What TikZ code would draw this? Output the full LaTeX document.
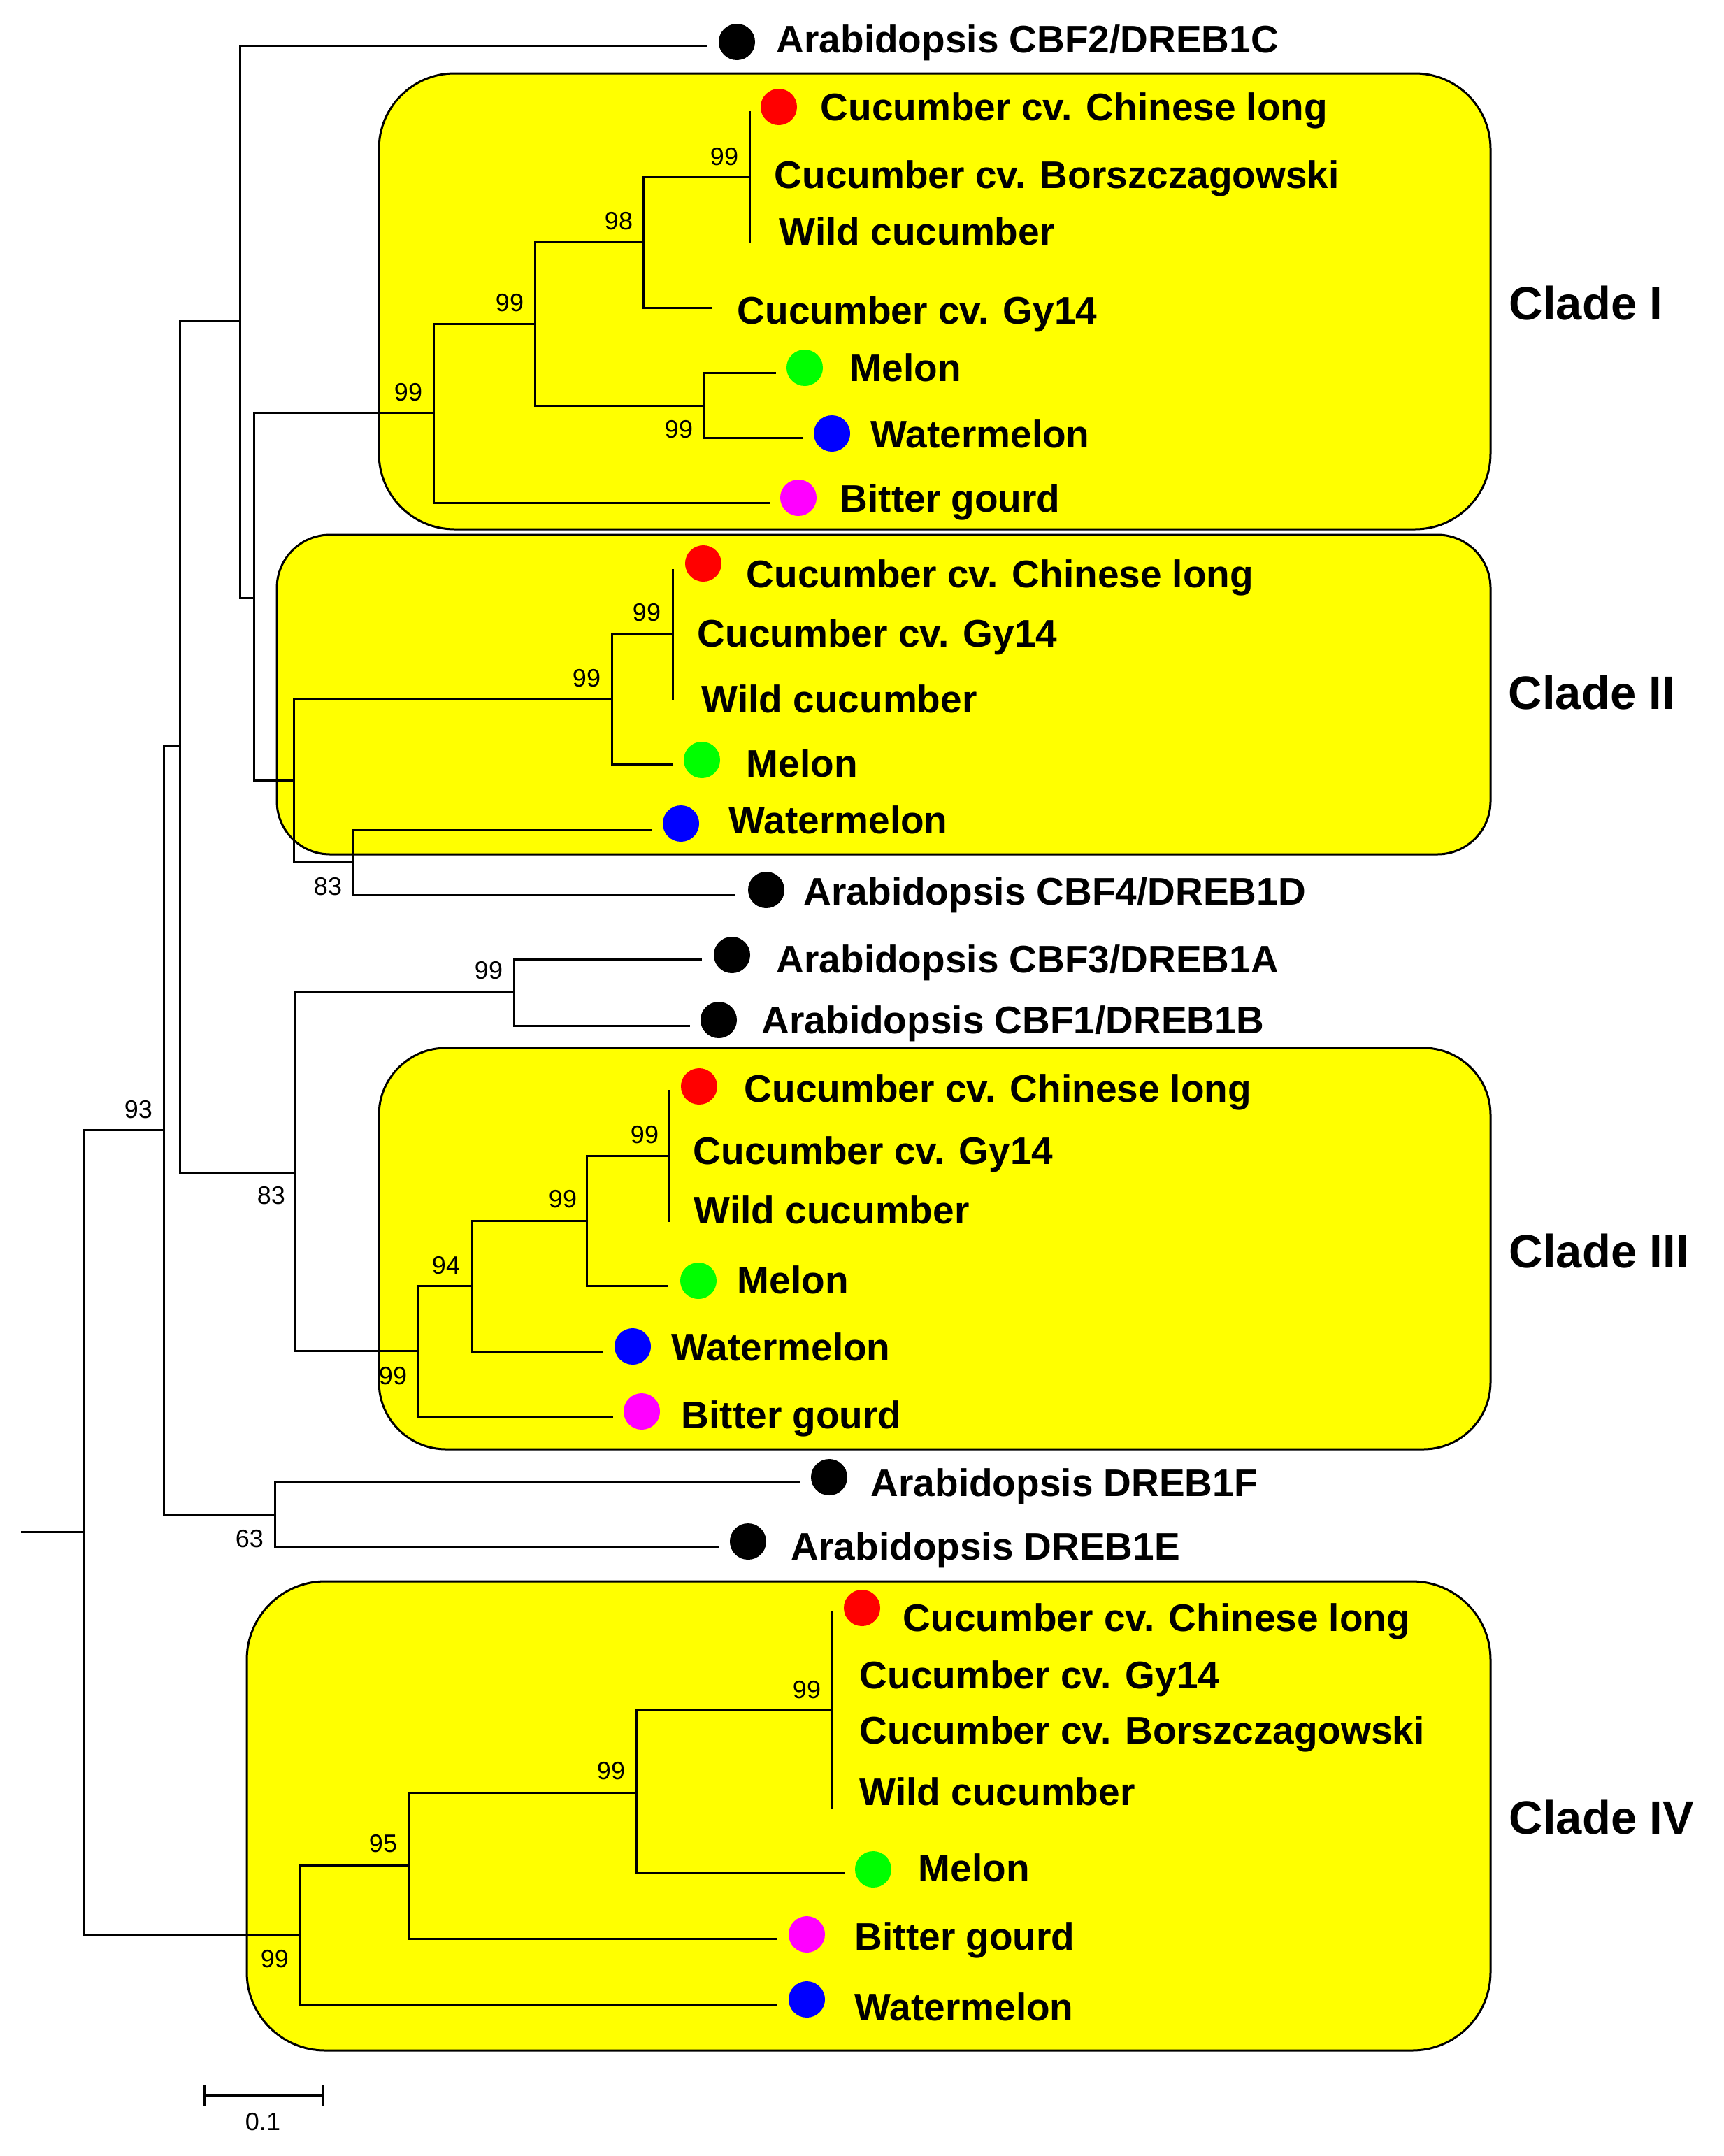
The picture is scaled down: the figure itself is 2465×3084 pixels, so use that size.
\documentclass[tikz,border=0pt]{standalone}
\usepackage{fontspec}
\setmainfont{Liberation Sans}
\definecolor{cyel}{RGB}{255,255,0}
\definecolor{cred}{RGB}{255,0,0}
\definecolor{cgreen}{RGB}{0,255,0}
\definecolor{cblue}{RGB}{0,0,255}
\definecolor{cmag}{RGB}{255,0,255}
\begin{document}
\begin{tikzpicture}[x=0.25pt,y=-0.25pt,
  branch/.style={draw=black, line width=0.75pt},
  cladebox/.style={draw=black, fill=cyel, line width=0.75pt, inner sep=0pt},
  dot/.style={circle, inner sep=0pt, minimum size=13pt, draw=none},
  lab/.style={anchor=west, inner sep=0pt, font=\fontsize{13.75}{16}\selectfont\bfseries, text height=9.85pt, text depth=0pt},
  boot/.style={inner sep=0pt, font=\fontsize{9}{10}\selectfont, text height=6.45pt, text depth=0pt},
  cladelab/.style={anchor=west, inner sep=0pt, font=\fontsize{16.75}{19}\selectfont\bfseries, text height=12pt, text depth=0pt}]
\useasboundingbox (0,0) rectangle (2465,3084);
% clade boxes
\node[cladebox, rounded corners=27pt, minimum width=397.5pt, minimum height=163pt] (box1) at (1337,431) {};
\node[cladebox, rounded corners=19pt, minimum width=434pt, minimum height=114.25pt] (box2) at (1264,993.5) {};
\node[cladebox, rounded corners=24pt, minimum width=397.5pt, minimum height=143.5pt] (box3) at (1337,1786) {};
\node[cladebox, rounded corners=28pt, minimum width=444.75pt, minimum height=167.75pt] (box4) at (1242.5,2597.5) {};
% tree coordinates
\coordinate (rs) at (30,2191);
\coordinate (r) at (120,2191);
\coordinate (n93) at (234,1616);
\coordinate (nA) at (257,1067);
\coordinate (nB) at (343,459);
\coordinate (nC) at (363,855);
\coordinate (nD) at (420,1116);
\coordinate (n83a) at (505,1232);
\coordinate (n83b) at (422,1677);
\coordinate (n99ab) at (735,1419);
\coordinate (nDE) at (393,2167);
\coordinate (c1r) at (620,590);
\coordinate (c1a) at (765,463);
\coordinate (c1b) at (920,346);
\coordinate (c1c) at (1072,253);
\coordinate (c1top) at (1072,159);
\coordinate (c1bot) at (1072,348);
\coordinate (c1mw) at (1007,580);
\coordinate (eCBF2) at (1011,65);
\coordinate (e1gy) at (1019,440);
\coordinate (e1mel) at (1110,533);
\coordinate (e1wm) at (1148,626);
\coordinate (e1bg) at (1102,719);
\coordinate (c2a) at (875,1000);
\coordinate (c2b) at (962,907);
\coordinate (c2top) at (962,814);
\coordinate (c2bot) at (962,1001);
\coordinate (e2mel) at (962,1093);
\coordinate (e2wm) at (932,1187);
\coordinate (eCBF4) at (1052,1280);
\coordinate (eCBF3) at (1004,1372);
\coordinate (eCBF1) at (987,1467);
\coordinate (c3r) at (598,1932);
\coordinate (c3a) at (675,1839);
\coordinate (c3b) at (839,1746);
\coordinate (c3c) at (956,1653);
\coordinate (c3top) at (956,1559);
\coordinate (c3bot) at (956,1748);
\coordinate (e3mel) at (956,1839);
\coordinate (e3wm) at (863,1933);
\coordinate (e3bg) at (877,2026);
\coordinate (eF) at (1144,2119);
\coordinate (eE) at (1028,2212);
\coordinate (c4r) at (429,2767);
\coordinate (c4a) at (584,2668);
\coordinate (c4b) at (910,2564);
\coordinate (c4c) at (1190,2446);
\coordinate (c4top) at (1190,2304);
\coordinate (c4bot) at (1190,2588);
\coordinate (e4mel) at (1208,2679);
\coordinate (e4bg) at (1112,2773);
\coordinate (e4wm) at (1112,2867);
% branches
\draw[branch] (rs) -- (r);
\draw[branch] (r) |- (n93);
\draw[branch] (r) |- (c4r);
\draw[branch] (n93) |- (nA);
\draw[branch] (n93) |- (nDE);
\draw[branch] (nA) |- (nB);
\draw[branch] (nA) |- (n83b);
\draw[branch] (nB) |- (eCBF2);
\draw[branch] (nB) |- (nC);
\draw[branch] (nC) |- (c1r);
\draw[branch] (nC) |- (nD);
\draw[branch] (nD) |- (c2a);
\draw[branch] (nD) |- (n83a);
\draw[branch] (n83a) |- (e2wm);
\draw[branch] (n83a) |- (eCBF4);
\draw[branch] (c2a) |- (c2b);
\draw[branch] (c2a) |- (e2mel);
\draw[branch] (c2top) -- (c2bot);
\draw[branch] (n83b) |- (n99ab);
\draw[branch] (n83b) |- (c3r);
\draw[branch] (n99ab) |- (eCBF3);
\draw[branch] (n99ab) |- (eCBF1);
\draw[branch] (c3r) |- (c3a);
\draw[branch] (c3r) |- (e3bg);
\draw[branch] (c3a) |- (c3b);
\draw[branch] (c3a) |- (e3wm);
\draw[branch] (c3b) |- (c3c);
\draw[branch] (c3b) |- (e3mel);
\draw[branch] (c3top) -- (c3bot);
\draw[branch] (nDE) |- (eF);
\draw[branch] (nDE) |- (eE);
\draw[branch] (c1r) |- (c1a);
\draw[branch] (c1r) |- (e1bg);
\draw[branch] (c1a) |- (c1b);
\draw[branch] (c1a) |- (c1mw);
\draw[branch] (c1b) |- (c1c);
\draw[branch] (c1b) |- (e1gy);
\draw[branch] (c1top) -- (c1bot);
\draw[branch] (c1mw) |- (e1mel);
\draw[branch] (c1mw) |- (e1wm);
\draw[branch] (c4r) |- (c4a);
\draw[branch] (c4r) |- (e4wm);
\draw[branch] (c4a) |- (c4b);
\draw[branch] (c4a) |- (e4bg);
\draw[branch] (c4b) |- (c4c);
\draw[branch] (c4b) |- (e4mel);
\draw[branch] (c4top) -- (c4bot);
% bootstrap values
\node[boot] (b1) at (1036,224) {99};
\node[boot] (b2) at (885,316) {98};
\node[boot] (b3) at (729,433) {99};
\node[boot] (b4) at (584,561) {99};
\node[boot] (b5) at (971,614) {99};
\node[boot] (b6) at (925,876) {99};
\node[boot] (b7) at (839,970) {99};
\node[boot] (b8) at (469,1268) {83};
\node[boot] (b9) at (699,1388) {99};
\node[boot] (b10) at (198,1587) {93};
\node[boot] (b11) at (388,1710) {83};
\node[boot] (b12) at (922,1623) {99};
\node[boot] (b13) at (805,1715) {99};
\node[boot] (b14) at (638,1810) {94};
\node[boot] (b15) at (562,1968) {99};
\node[boot] (b16) at (357,2201) {63};
\node[boot] (b17) at (1154,2417) {99};
\node[boot] (b18) at (874,2533) {99};
\node[boot] (b19) at (548,2637) {95};
\node[boot] (b20) at (393,2802) {99};
% dots
\node[dot, fill=black] (dCBF2) at (1054,60) {};
\node[dot, fill=cred] (d1red) at (1114,153) {};
\node[dot, fill=cgreen] (d1mel) at (1151,526) {};
\node[dot, fill=cblue] (d1wm) at (1190,620) {};
\node[dot, fill=cmag] (d1bg) at (1142,712) {};
\node[dot, fill=cred] (d2red) at (1006,806) {};
\node[dot, fill=cgreen] (d2mel) at (1004,1087) {};
\node[dot, fill=cblue] (d2wm) at (974,1178) {};
\node[dot, fill=black] (dCBF4) at (1096,1273) {};
\node[dot, fill=black] (dCBF3) at (1047,1366) {};
\node[dot, fill=black] (dCBF1) at (1028,1459) {};
\node[dot, fill=cred] (d3red) at (1000,1554) {};
\node[dot, fill=cgreen] (d3mel) at (999,1832) {};
\node[dot, fill=cblue] (d3wm) at (905,1926) {};
\node[dot, fill=cmag] (d3bg) at (918,2019) {};
\node[dot, fill=black] (dF) at (1186,2113) {};
\node[dot, fill=black] (dE) at (1070,2205) {};
\node[dot, fill=cred] (d4red) at (1233,2300) {};
\node[dot, fill=cgreen] (d4mel) at (1249,2674) {};
\node[dot, fill=cmag] (d4bg) at (1154,2767) {};
\node[dot, fill=cblue] (d4wm) at (1154,2860) {};
% leaf labels
\node[lab] (tCBF2) at (1110,56) {Arabidopsis CBF2/DREB1C};
\node[lab] (t1cl) at (1173,153) {Cucumber cv. Chinese long};
\node[lab] (t1bo) at (1107,250) {Cucumber cv. Borszczagowski};
\node[lab] (t1wc) at (1114,331) {Wild cucumber};
\node[lab] (t1gy) at (1054,444) {Cucumber cv. Gy14};
\node[lab] (t1mel) at (1215,526) {Melon};
\node[lab] (t1wm) at (1245,621) {Watermelon};
\node[lab] (t1bg) at (1201,713) {Bitter gourd};
\node[lab] (t2cl) at (1067,821) {Cucumber cv. Chinese long};
\node[lab] (t2gy) at (997,906) {Cucumber cv. Gy14};
\node[lab] (t2wc) at (1003,1000) {Wild cucumber};
\node[lab] (t2mel) at (1067,1092) {Melon};
\node[lab] (t2wm) at (1042,1173) {Watermelon};
\node[lab] (tCBF4) at (1149,1275) {Arabidopsis CBF4/DREB1D};
\node[lab] (tCBF3) at (1110,1372) {Arabidopsis CBF3/DREB1A};
\node[lab] (tCBF1) at (1089,1459) {Arabidopsis CBF1/DREB1B};
\node[lab] (t3cl) at (1064,1557) {Cucumber cv. Chinese long};
\node[lab] (t3gy) at (991,1646) {Cucumber cv. Gy14};
\node[lab] (t3wc) at (992,1731) {Wild cucumber};
\node[lab] (t3mel) at (1054,1831) {Melon};
\node[lab] (t3wm) at (960,1927) {Watermelon};
\node[lab] (t3bg) at (974,2024) {Bitter gourd};
\node[lab] (tF) at (1245,2121) {Arabidopsis DREB1F};
\node[lab] (tE) at (1131,2212) {Arabidopsis DREB1E};
\node[lab] (t4cl) at (1291,2314) {Cucumber cv. Chinese long};
\node[lab] (t4gy) at (1229,2396) {Cucumber cv. Gy14};
\node[lab] (t4bo) at (1229,2475) {Cucumber cv. Borszczagowski};
\node[lab] (t4wc) at (1229,2563) {Wild cucumber};
\node[lab] (t4mel) at (1313,2672) {Melon};
\node[lab] (t4bg) at (1222,2770) {Bitter gourd};
\node[lab] (t4wm) at (1222,2871) {Watermelon};
% clade labels
\node[cladelab] (L1) at (2158,433) {Clade I};
\node[cladelab] (L2) at (2157,990) {Clade II};
\node[cladelab] (L3) at (2158,1789) {Clade III};
\node[cladelab] (L4) at (2158,2599) {Clade IV};
% scale bar
\coordinate (sbL) at (292,2997);
\coordinate (sbR) at (462,2997);
\draw[branch] (sbL) -- (sbR);
\draw[branch] (292,2983) -- (292,3012);
\draw[branch] (462,2983) -- (462,3012);
\node[boot] (sbt) at (376,3035) {0.1};
\end{tikzpicture}
\end{document}
